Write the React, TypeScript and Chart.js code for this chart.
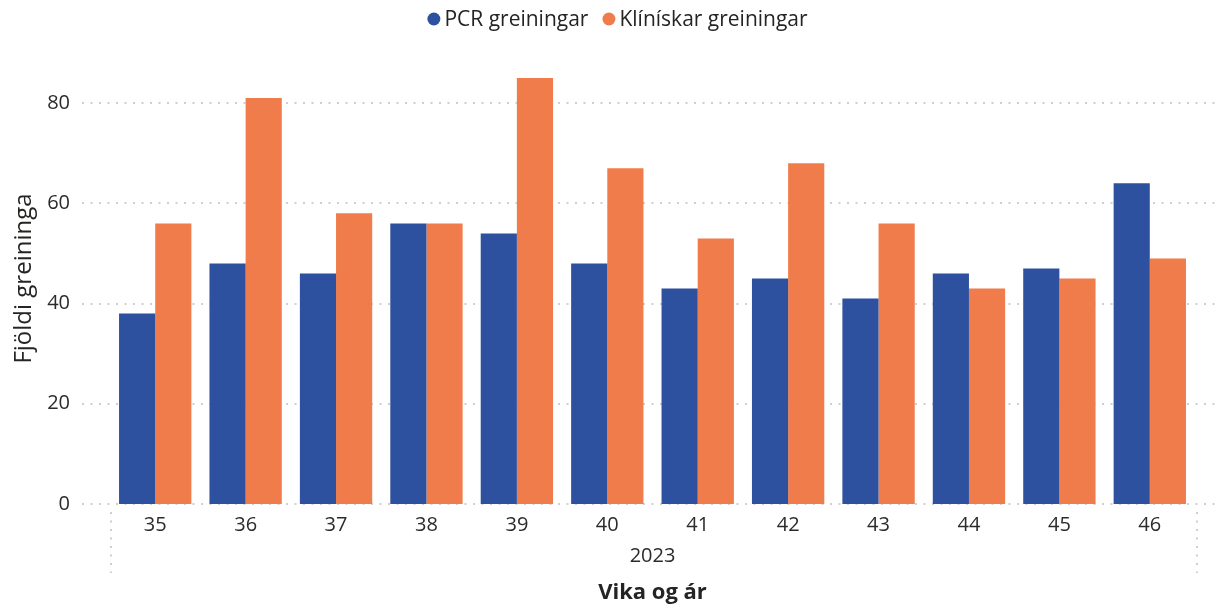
import React, { useEffect, useRef } from "react";
import { Chart, registerables } from "chart.js";

Chart.register(...registerables);

const weeks = ["35", "36", "37", "38", "39", "40", "41", "42", "43", "44", "45", "46"];
const yearLabels = ["2023"];
const pcrValues = [38, 48, 46, 56, 54, 48, 43, 45, 41, 46, 47, 64];
const clinicalValues = [56, 81, 58, 56, 85, 67, 53, 68, 56, 43, 45, 49];
const seriesNames = ["PCR greiningar", "Klínískar greiningar"];
const seriesColors = ["#2E519F", "#EF7C4A"];
const yTitle = "Fjöldi greininga";
const xTitle = "Vika og ár";

const FONT = "'Open Sans', 'Noto Sans', sans-serif";
const GRID_COLOR = "#cfcfcf";

const legendPlugin = {
  id: "customLegend",
  afterDraw(chart: any) {
    const ctx = chart.ctx as CanvasRenderingContext2D;
    const fontSize = 21;
    ctx.save();
    ctx.font = `${fontSize}px ${FONT}`;
    const r = 6.5;
    const gapAfterDot = 4;
    const gapBetween = 14;
    const items = chart.data.datasets.map((d: any) => ({
      label: d.label as string,
      color: d.backgroundColor as string,
      w: ctx.measureText(d.label).width,
    }));
    const total = items.reduce((s: number, it: any) => s + 2 * r + gapAfterDot + it.w, 0) + gapBetween * (items.length - 1);
    let x = (chart.width - total) / 2 + 4;
    const y = 19;
    ctx.textBaseline = "middle";
    ctx.textAlign = "left";
    for (const it of items) {
      ctx.beginPath();
      ctx.fillStyle = it.color;
      ctx.arc(x + r, y, r, 0, Math.PI * 2);
      ctx.fill();
      ctx.fillStyle = "#252423";
      ctx.fillText(it.label, x + 2 * r + gapAfterDot, y + 1);
      x += 2 * r + gapAfterDot + it.w + gapBetween;
    }
    ctx.restore();
  },
};

const gridPlugin = {
  id: "dottedGrid",
  beforeDatasetsDraw(chart: any) {
    const ctx = chart.ctx as CanvasRenderingContext2D;
    const { chartArea } = chart;
    const yScale = chart.scales.y;
    const x2 = chart.scales.x2;
    ctx.save();
    ctx.strokeStyle = GRID_COLOR;
    ctx.lineWidth = 2;
    ctx.setLineDash([2, 6.5]);
    for (const t of yScale.ticks) {
      const py = Math.round(yScale.getPixelForValue(t.value));
      ctx.beginPath();
      ctx.moveTo(chartArea.left - 28, py);
      ctx.lineTo(chartArea.right + 22, py);
      ctx.stroke();
    }
    // hierarchy separators
    const top = chartArea.bottom + 8;
    const bottom = x2.bottom - 38;
    for (const px of [chartArea.left + 1, chartArea.right + 2]) {
      ctx.beginPath();
      ctx.moveTo(px, top);
      ctx.lineTo(px, bottom);
      ctx.stroke();
    }
    ctx.restore();
  },
};

export default function App() {
  const canvasRef = useRef<HTMLCanvasElement | null>(null);

  useEffect(() => {
    document.body.style.margin = "0";
    const canvas = canvasRef.current;
    if (!canvas) return;
    const chart = new Chart(canvas, {
      type: "bar",
      data: {
        labels: weeks,
        datasets: [
          { label: seriesNames[0], data: pcrValues, backgroundColor: seriesColors[0], borderWidth: 0 },
          { label: seriesNames[1], data: clinicalValues, backgroundColor: seriesColors[1], borderWidth: 0 },
        ],
      },
      options: {
        animation: false,
        responsive: false,
        maintainAspectRatio: false,
        layout: { padding: { top: 53, right: 32, left: 0, bottom: 0 } },
        datasets: { bar: { categoryPercentage: 0.8, barPercentage: 1.0 } },
        plugins: {
          legend: { display: false },
          tooltip: { enabled: false },
        },
        scales: {
          x: {
            type: "category",
            position: "bottom",
            weight: 0,
            grid: { display: false, drawTicks: false },
            border: { display: false },
            ticks: {
              color: "#2b2b2b",
              font: { family: FONT, size: 20 },
              padding: 9,
              maxRotation: 0,
              autoSkip: false,
            },
            afterFit: (s: any) => {
              s.height = 36;
            },
          },
          x2: {
            type: "category",
            labels: yearLabels,
            position: "bottom",
            weight: 1,
            offset: true,
            grid: { display: false, drawTicks: false },
            border: { display: false },
            ticks: {
              color: "#2b2b2b",
              font: { family: FONT, size: 20 },
              padding: 4,
              maxRotation: 0,
            },
            title: {
              display: true,
              text: xTitle,
              color: "#252423",
              font: { family: FONT, size: 22, weight: "bold" },
              padding: { top: 0, bottom: 5 },
            },
            afterFit: (s: any) => {
              s.height = 71;
            },
          },
          y: {
            min: 0,
            max: 90,
            grid: { display: false, drawTicks: false },
            border: { display: false },
            ticks: {
              stepSize: 20,
              color: "#2b2b2b",
              font: { family: FONT, size: 20 },
              padding: 40,
            },
            afterBuildTicks: (s: any) => {
              s.ticks = s.ticks.filter((t: any) => t.value % 20 === 0);
            },
            title: {
              display: true,
              text: yTitle,
              color: "#252423",
              font: { family: FONT, size: 24 },
              padding: { top: 10, bottom: 0 },
            },
            afterFit: (s: any) => {
              s.width = 110;
            },
          },
        },
      },
      plugins: [gridPlugin, legendPlugin],
    } as any);
    return () => chart.destroy();
  }, []);

  return (
    <div style={{ width: 1227, height: 611 }}>
      <canvas ref={canvasRef} width={1227} height={611} style={{ display: "block", width: 1227, height: 611 }} />
    </div>
  );
}
